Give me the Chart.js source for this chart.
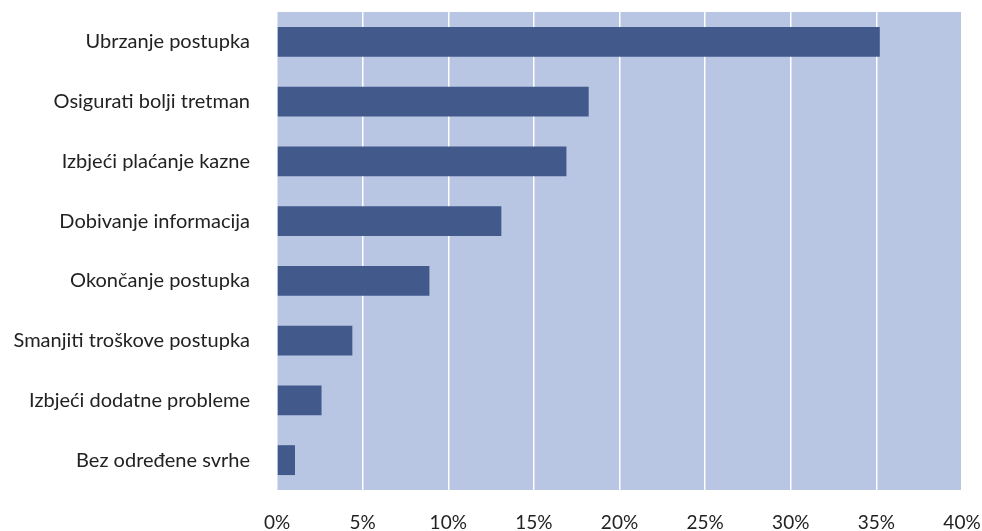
<!DOCTYPE html>
<html>
<head>
<meta charset="utf-8">
<script src="https://cdn.jsdelivr.net/npm/chart.js@4"></script>
<style>
  html, body { margin: 0; padding: 0; background: #fff; }
  #wrap { width: 982px; height: 531px; }
</style>
</head>
<body>
<div id="wrap"><canvas id="chartSvrha"></canvas></div>
<script>
const categories = [
    'Ubrzanje postupka',
    'Osigurati bolji tretman',
    'Izbjeći plaćanje kazne',
    'Dobivanje informacija',
    'Okončanje postupka',
    'Smanjiti troškove postupka',
    'Izbjeći dodatne probleme',
    'Bez određene svrhe'
];
const shares = [35.2, 18.2, 16.9, 13.1, 8.9, 4.4, 2.6, 1.05];
const tickValues = [0, 5, 10, 15, 20, 25, 30, 35, 40];

// light blue fill behind the plot area
const plotBackground = {
    id: 'plotBackground',
    beforeDraw(chart) {
        const a = chart.chartArea;
        const ctx = chart.ctx;
        ctx.save();
        ctx.fillStyle = '#b8c5e3';
        ctx.fillRect(a.left, a.top, a.right - a.left, a.bottom - a.top);
        ctx.restore();
    }
};

const ctxSvrha = document.getElementById('chartSvrha');
const chartSvrha = new Chart(ctxSvrha, {
    type: 'bar',
    data: {
        labels: categories,
        datasets: [{
            data: shares,
            backgroundColor: '#42598c',
            borderWidth: 0,
            barPercentage: 0.5,
            categoryPercentage: 1.0
        }]
    },
    plugins: [plotBackground],
    options: {
        indexAxis: 'y',
        responsive: true,
        maintainAspectRatio: false,
        animation: false,
        layout: { padding: { top: 12, right: 20, left: 0, bottom: 0 } },
        plugins: {
            legend: { display: false },
            tooltip: { enabled: false }
        },
        scales: {
            x: {
                min: 0,
                max: 40,
                afterBuildTicks: (scale) => {
                    scale.ticks = tickValues.map(v => ({ value: v }));
                },
                afterFit: (scale) => {
                    scale.height = 41;
                    scale.paddingLeft = 0;
                    scale.paddingRight = 0;
                },
                grid: { color: '#ffffff', lineWidth: 1.5, drawTicks: false },
                border: { display: false },
                ticks: {
                    padding: 21,
                    color: '#222222',
                    font: { family: 'Lato', size: 19 },
                    callback: (v) => v + '%'
                }
            },
            y: {
                afterFit: (scale) => {
                    scale.width = 277;
                    scale.paddingTop = 0;
                    scale.paddingBottom = 0;
                },
                grid: { display: false, drawTicks: false },
                border: { display: false },
                ticks: {
                    padding: 27,
                    color: '#222222',
                    font: { family: 'Lato', size: 20 }
                }
            }
        }
    }
});
</script>
</body>
</html>
